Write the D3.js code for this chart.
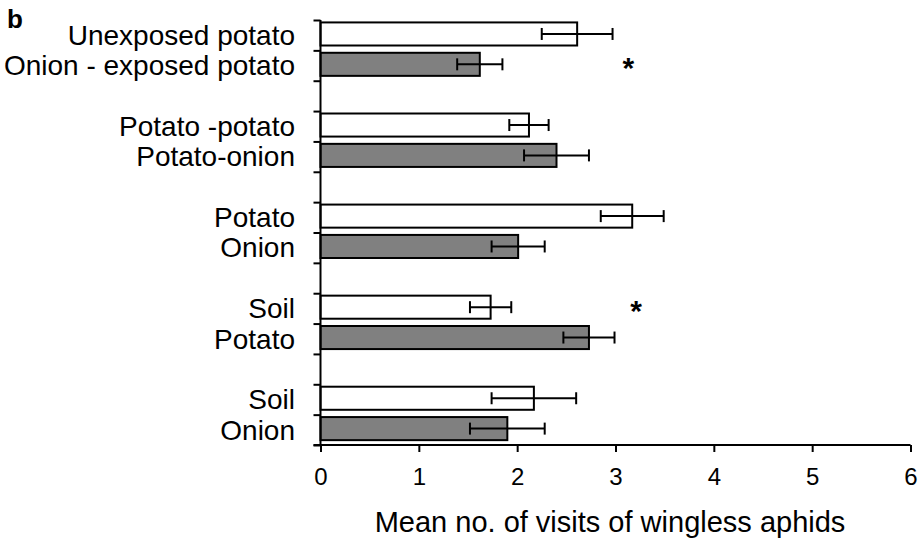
<!DOCTYPE html>
<html>
<head>
<meta charset="utf-8">
<script src="https://cdn.jsdelivr.net/npm/d3@7"></script>
<style>
  html, body { margin: 0; padding: 0; background: #fff; }
  svg { display: block; font-family: "Liberation Sans", Arial, sans-serif; }
</style>
</head>
<body>
<svg id="chart" width="919" height="542"></svg>
<script>
// ---- data ----
const whiteLabels = ["Unexposed potato", "Potato -potato", "Potato", "Soil", "Soil"];
const grayLabels  = ["Onion - exposed potato", "Potato-onion", "Onion", "Potato", "Onion"];
const whiteMeans  = [2.61, 2.12, 3.17, 1.73, 2.17];
const whiteErr    = [0.36, 0.20, 0.32, 0.21, 0.43];
const grayMeans   = [1.62, 2.40, 2.01, 2.73, 1.90];
const grayErr     = [0.23, 0.33, 0.27, 0.26, 0.38];
const xTicks      = [0, 1, 2, 3, 4, 5, 6];
const sigGroups   = [0, 3];          // groups marked with *
const sigSeries   = ["gray", "white"];
const sigX        = [3.13, 3.21];
const xTitle      = "Mean no. of visits of wingless aphids";
const panelLabel  = "b";

// ---- build rows ----
const rows = [];
whiteLabels.forEach((_, i) => {
  rows.push({ group: i, series: "white", label: whiteLabels[i], mean: whiteMeans[i], err: whiteErr[i], slot: i * 3 });
  rows.push({ group: i, series: "gray", label: grayLabels[i], mean: grayMeans[i], err: grayErr[i], slot: i * 3 + 1 });
});
const nSlots = whiteLabels.length * 3 - 1;

const svg = d3.select("#chart");
const x = d3.scaleLinear().domain([0, 6]).range([320.5, 910.5]);
const y = d3.scaleLinear().domain([0, nSlots]).range([20, 445]);

const fill = { white: "#ffffff", gray: "#808080" };

// bars
svg.append("g").selectAll("rect").data(rows).join("rect")
  .attr("x", x(0))
  .attr("y", d => y(d.slot + 0.08))
  .attr("width", d => x(d.mean) - x(0))
  .attr("height", d => y(d.slot + 0.84) - y(d.slot + 0.08))
  .attr("fill", d => fill[d.series])
  .attr("stroke", "#000")
  .attr("stroke-width", 2);

// error bars
const eb = svg.append("g").attr("stroke", "#000").attr("stroke-width", 2);
rows.forEach(d => {
  const cy = y(d.slot + 0.46);
  eb.append("line").attr("x1", x(d.mean - d.err)).attr("x2", x(d.mean + d.err)).attr("y1", cy).attr("y2", cy);
  [d.mean - d.err, d.mean + d.err].forEach(v => {
    eb.append("line").attr("x1", x(v)).attr("x2", x(v)).attr("y1", cy - 6).attr("y2", cy + 6);
  });
});

// y axis
const yAxis = d3.axisLeft(y).tickValues(d3.range(0, nSlots + 1)).tickSize(7).tickFormat("");
const gy = svg.append("g").attr("transform", `translate(${x(0)},0)`).call(yAxis);
gy.select(".domain").attr("stroke-width", 2).attr("d", `M0,${y(0)}V${y(nSlots)}`);
gy.selectAll(".tick line").attr("stroke-width", 2);

// x axis
const xAxis = d3.axisBottom(x).tickValues(xTicks).tickSize(7).tickFormat(d3.format("d"));
const gx = svg.append("g").attr("transform", `translate(0,${y(nSlots)})`).call(xAxis);
gx.select(".domain").attr("stroke-width", 2).attr("d", `M${x(0) - 7},0H${x(6)}`);
gx.selectAll(".tick line").attr("stroke-width", 2);
gx.selectAll(".tick text").attr("font-size", 24).attr("font-family", "Liberation Sans, Arial, sans-serif")
  .attr("fill", "#000").attr("dy", null).attr("y", 40);

// category labels
svg.append("g").selectAll("text").data(rows).join("text")
  .attr("x", 295)
  .attr("y", d => y(d.slot + 0.5))
  .attr("dy", "0.35em")
  .attr("text-anchor", "end")
  .attr("font-size", 28)
  .attr("fill", "#000")
  .text(d => d.label);

// significance asterisks
sigGroups.forEach((g, k) => {
  const slot = g * 3 + (sigSeries[k] === "white" ? 0 : 1);
  svg.append("text")
    .attr("x", x(sigX[k]))
    .attr("y", y(slot + 0.46) + 14)
    .attr("text-anchor", "middle")
    .attr("font-size", 30)
    .attr("font-weight", "bold")
    .text("*");
});

// axis title
svg.append("text")
  .attr("x", 610).attr("y", 532)
  .attr("text-anchor", "middle")
  .attr("font-size", 29)
  .text(xTitle);

// panel label
svg.append("text")
  .attr("x", 7).attr("y", 28)
  .attr("font-size", 26)
  .attr("font-weight", "bold")
  .text(panelLabel);
</script>
</body>
</html>
